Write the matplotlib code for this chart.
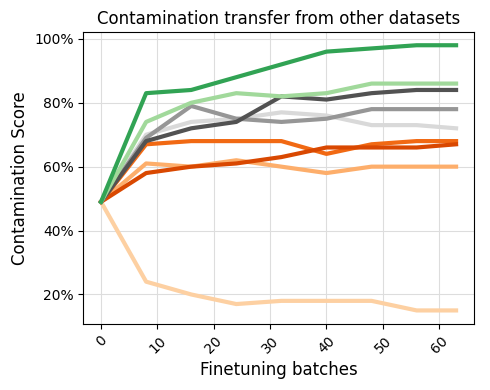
import matplotlib
matplotlib.use("Agg")
import matplotlib.pyplot as plt
from matplotlib.ticker import PercentFormatter

batches = [0, 8, 16, 24, 32, 40, 48, 56, 63]

# contamination scores (%) per source dataset
orange_light = [49, 24, 20, 17, 18, 18, 18, 15, 15]
orange_mid = [49, 61, 60, 62, 60, 58, 60, 60, 60]
orange_bright = [49, 67, 68, 68, 68, 64, 67, 68, 68]
orange_dark = [49, 58, 60, 61, 63, 66, 66, 66, 67]
grey_light = [49, 70, 74, 75, 77, 76, 73, 73, 72]
grey_mid = [49, 69, 79, 75, 74, 75, 78, 78, 78]
grey_dark = [49, 68, 72, 74, 82, 81, 83, 84, 84]
green_light = [49, 74, 80, 83, 82, 83, 86, 86, 86]
green_dark = [49, 83, 84, 88, 92, 96, 97, 98, 98]

series = [
    (orange_light, "#fdd0a2"),
    (orange_mid, "#fdae6b"),
    (orange_bright, "#f16913"),
    (orange_dark, "#d94801"),
    (grey_light, "#d9d9d9"),
    (grey_mid, "#969696"),
    (grey_dark, "#525252"),
    (green_light, "#a1d99b"),
    (green_dark, "#31a354"),
]

fig, ax = plt.subplots(figsize=(4.9, 3.9), dpi=100)
for vals, color in series:
    ax.plot(batches, vals, color=color, linewidth=3)

ax.yaxis.set_major_formatter(PercentFormatter(100, decimals=0))
ax.set_yticks([20, 40, 60, 80, 100])
ax.set_xticks([0, 10, 20, 30, 40, 50, 60])
ax.tick_params(axis="x", rotation=45)
ax.grid(True, color="#dddddd", linewidth=0.8)
ax.set_axisbelow(True)

ax.set_title("Contamination transfer from other datasets", fontsize=12)
ax.set_xlabel("Finetuning batches", fontsize=12)
ax.set_ylabel("Contamination Score", fontsize=12)

fig.subplots_adjust(left=0.17, right=0.967, top=0.918, bottom=0.17)
fig.savefig("out.png")
